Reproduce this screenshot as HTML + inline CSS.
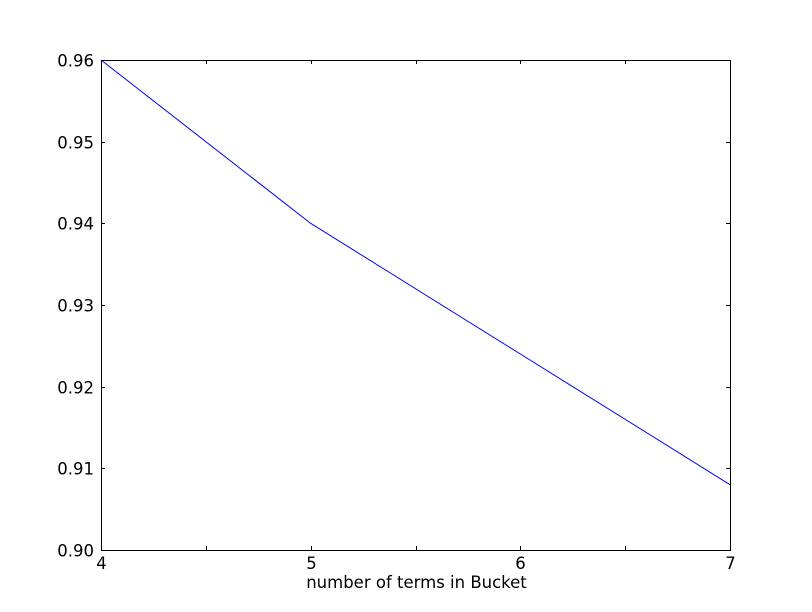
<!DOCTYPE html>
<html><head><meta charset="utf-8"><style>body{margin:0;background:#fff}svg{display:block}text{font-family:"DejaVu Sans","Liberation Sans",sans-serif;font-size:16.5px;fill:#000}</style></head>
<body>
<svg width="812" height="612">
<rect x="0" y="0" width="812" height="612" fill="#fff"/>
<g id="g"></g>
</svg>
<script>
const xValues=[4,5,6,7];
const yValues=[0.96,0.94,0.924,0.908];
const xTicks=[4,4.5,5,5.5,6,6.5,7];
const xTickLabels=["4","","5","","6","","7"];
const yTicks=[0.90,0.91,0.92,0.93,0.94,0.95,0.96];
const yTickLabels=["0.90","0.91","0.92","0.93","0.94","0.95","0.96"];
const L=101,R=730,T=60,B=550;
const sx=v=>L+(v-4)/(7-4)*(R-L);
const sy=v=>B-(v-0.90)/(0.96-0.90)*(B-T);
const g=document.getElementById('g');
const NS='http://www.w3.org/2000/svg';
function mk(t,a){const e=document.createElementNS(NS,t);for(const k in a)e.setAttribute(k,a[k]);g.appendChild(e);return e;}
const pl=mk('polyline',{points:xValues.map((x,i)=>sx(x)+','+sy(yValues[i])).join(' '),fill:'none',stroke:'#0000ff','stroke-width':1});


const fr=mk('rect',{x:L+0.5,y:T+0.5,width:R-L,height:B-T,fill:'none',stroke:'#000','stroke-width':1});


xTicks.forEach((v,i)=>{const x=Math.round(sx(v))+0.5;
 const t1=mk('line',{x1:x,x2:x,y1:B,y2:B-4,stroke:'#000'});
 
 
 const t2=mk('line',{x1:x,x2:x,y1:T,y2:T+4,stroke:'#000'});
 
 
 if(xTickLabels[i]){const tx=mk('text',{x:x,y:B+19,'text-anchor':'middle'});tx.textContent=xTickLabels[i];
 
 }
});
yTicks.forEach((v,i)=>{const y=Math.round(sy(v))+0.5;
 const t1=mk('line',{x1:L,x2:L+4,y1:y,y2:y,stroke:'#000'});
 
 
 const t2=mk('line',{x1:R-4,x2:R,y1:y,y2:y,stroke:'#000'});
 
 
 const tx=mk('text',{x:L-7,y:y+6,'text-anchor':'end'});tx.textContent=yTickLabels[i];
 
 
});
const xt=mk('text',{x:(L+R)/2+1,y:588,'text-anchor':'middle'});xt.textContent='number of terms in Bucket';


</script>
</body></html>
